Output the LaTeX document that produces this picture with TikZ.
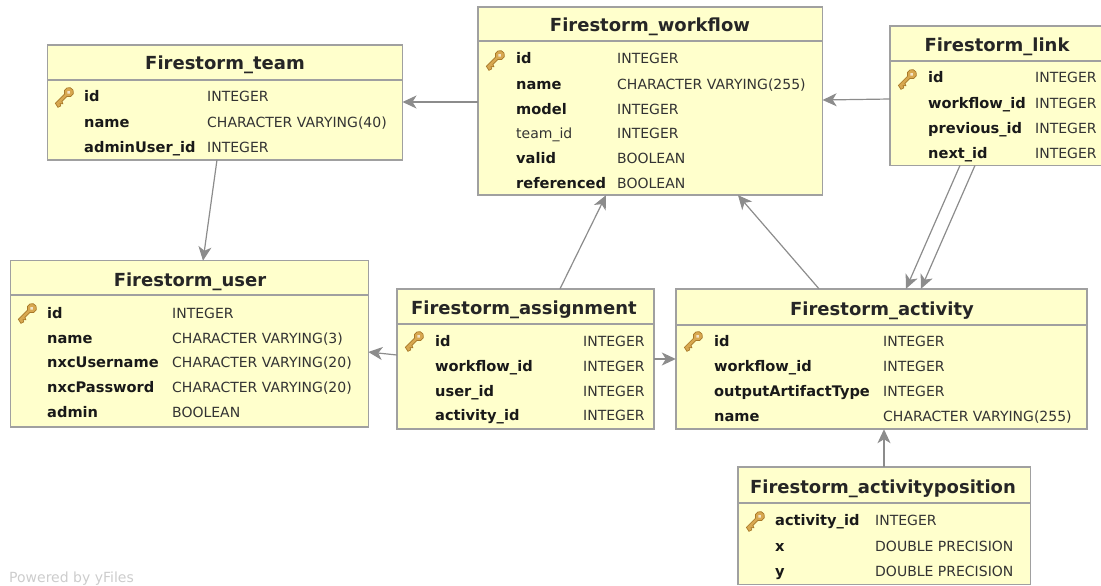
\documentclass[tikz,border=0pt]{standalone}
\usepackage{xcolor}
\usepackage{fontspec}
\setmainfont{DejaVu Sans}
\usetikzlibrary{arrows.meta}

\definecolor{tablefill}{HTML}{FFFFCC}
\definecolor{tableline}{HTML}{A0A0A0}
\definecolor{linkgray}{HTML}{8C8C8C}
\definecolor{keybrass}{HTML}{D8A850}
\definecolor{keyedge}{HTML}{A87828}

\tikzset{
  tablebox/.style={draw=tableline, fill=tablefill, line width=1.5pt, inner sep=0pt, outer sep=0pt, anchor=north west},
  tabletitle/.style={inner sep=0pt, anchor=base, font=\fontsize{18}{20}\selectfont\bfseries, text=black!85},
  fieldname/.style={inner sep=0pt, anchor=base west, font=\fontsize{14.6}{16}\selectfont\bfseries, text=black!90},
  fieldtype/.style={inner sep=0pt, anchor=base west, font=\fontsize{14}{16}\selectfont, text=black!80},
  fklink/.style={draw=linkgray, line width=1.2pt, -{Stealth[length=14pt,width=13pt,inset=4pt]}},
  keyicon/.pic={
    \begin{scope}[rotate=45]
      \draw[draw=keyedge, fill=keybrass, line width=0.7pt]
        (-12,-1.6) -- (1,-1.6) arc (-160:160:4.7) -- (1,1.6) -- (-6,1.6) -- (-7,4) -- (-9,2) -- (-10,4) -- (-13,3) -- cycle;
      \fill[white!70!keybrass] (5.2,0) circle (1.8);
    \end{scope}
  }
}

\begin{document}
\begin{tikzpicture}[x=1pt, y=-1pt]
  \clip (0,0) rectangle (1101,586);

  % tables
  \foreach \tname/\x/\y/\w/\h/\hy in {team/47.7/44.8/354.8/115/80, workflow/478/6.8/344.6/188.4/41, link/890/26/230/139.4/61,
      user/10.7/260.7/357.6/166.3/295, assignment/396.8/288.8/257.4/140.4/324, activity/675.8/288.8/411.4/140.4/325, position/738/467/292.4/117.4/503}{%
    \node[tablebox, minimum width=\w pt, minimum height=\h pt] (\tname) at (\x,\y) {};
    \draw[tableline, line width=1.2pt] (\x,\hy) -- (\x+\w,\hy);
  }

  % titles
  \node[tabletitle] (teamtitle) at (225,70) {Firestorm\_team};
  \node[tabletitle] (workflowtitle) at (650,32) {Firestorm\_workflow};
  \node[tabletitle] (linktitle) at (997,52) {Firestorm\_link};
  \node[tabletitle] (usertitle) at (190,286) {Firestorm\_user};
  \node[tabletitle] (assignmenttitle) at (524,314) {Firestorm\_assignment};
  \node[tabletitle] (activitytitle) at (882,315) {Firestorm\_activity};
  \node[tabletitle] (positiontitle) at (883,493) {Firestorm\_activityposition};

  % fields
  \foreach \y/\fname/\ftype [count=\i from 1] in {102/id/INTEGER, 127/name/CHARACTER VARYING(40), 152/adminUser\_id/INTEGER}{%
    \node[fieldname] (teamname\i) at (84,\y) {\fname};
    \node[fieldtype] (teamtype\i) at (207,\y) {\ftype};
  }
  \foreach \y/\fname/\ftype [count=\i from 1] in {64/id/INTEGER, 89/name/CHARACTER VARYING(255), 114/model/INTEGER,
      163/valid/BOOLEAN, 188/referenced/BOOLEAN}{%
    \node[fieldname] (workflowname\i) at (516,\y) {\fname};
    \node[fieldtype] (workflowtype\i) at (617,\y) {\ftype};
  }
  \node[fieldtype] (workflowname6) at (516,138) {team\_id};
  \node[fieldtype] (workflowtype6) at (617,138) {INTEGER};
  \foreach \y/\fname/\ftype [count=\i from 1] in {83/id/INTEGER, 108/workflow\_id/INTEGER, 133/previous\_id/INTEGER, 158/next\_id/INTEGER}{%
    \node[fieldname] (linkname\i) at (928,\y) {\fname};
    \node[fieldtype] (linktype\i) at (1035,\y) {\ftype};
  }
  \foreach \y/\fname/\ftype [count=\i from 1] in {318/id/INTEGER, 343/name/CHARACTER VARYING(3), 367/nxcUsername/CHARACTER VARYING(20),
      392/nxcPassword/CHARACTER VARYING(20), 417/admin/BOOLEAN}{%
    \node[fieldname] (username\i) at (47,\y) {\fname};
    \node[fieldtype] (usertype\i) at (172,\y) {\ftype};
  }
  \foreach \y/\fname/\ftype [count=\i from 1] in {346/id/INTEGER, 371/workflow\_id/INTEGER, 396/user\_id/INTEGER, 420/activity\_id/INTEGER}{%
    \node[fieldname] (assignmentname\i) at (435,\y) {\fname};
    \node[fieldtype] (assignmenttype\i) at (583,\y) {\ftype};
  }
  \foreach \y/\fname/\ftype [count=\i from 1] in {346/id/INTEGER, 371/workflow\_id/INTEGER, 396/outputArtifactType/INTEGER, 421/name/CHARACTER VARYING(255)}{%
    \node[fieldname] (activityname\i) at (714,\y) {\fname};
    \node[fieldtype] (activitytype\i) at (883,\y) {\ftype};
  }
  \foreach \y/\fname/\ftype [count=\i from 1] in {525/activity\_id/INTEGER, 551/x/DOUBLE PRECISION, 576/y/DOUBLE PRECISION}{%
    \node[fieldname] (positionname\i) at (775,\y) {\fname};
    \node[fieldtype] (positiontype\i) at (875,\y) {\ftype};
  }

  % primary keys
  \foreach \x/\y in {65/96, 496/59, 908/78, 28/312, 415/340, 694/340, 756/520}{%
    \pic at (\x,\y) {keyicon};
  }

  % connectors
  \draw[fklink] (team.south -| 217,0) -- (user.north -| 203,0);
  \draw[fklink] (workflow.west |- 0,102) -- (team.east |- 0,102);
  \draw[fklink] (link.west |- 0,99) -- (workflow.east |- 0,100);
  \draw[fklink] (assignment.north -| 560,0) -- (workflow.south -| 606,0);
  \draw[fklink] (assignment.west |- 0,355) -- (user.east |- 0,352);
  \draw[fklink] (assignment.east |- 0,359) -- (activity.west |- 0,359);
  \draw[fklink] (activity.north -| 819,0) -- (workflow.south -| 738,0);
  \draw[fklink] (link.south -| 960,0) -- (activity.north -| 906,0);
  \draw[fklink] (link.south -| 975,0) -- (activity.north -| 921,0);
  \draw[fklink] (position.north -| 884,0) -- (activity.south -| 884,0);

  \node[inner sep=0pt, anchor=base west, font=\fontsize{14}{15}\selectfont, text=black!20] (poweredby) at (9,582.5) {Powered by yFiles};
\end{tikzpicture}
\end{document}
